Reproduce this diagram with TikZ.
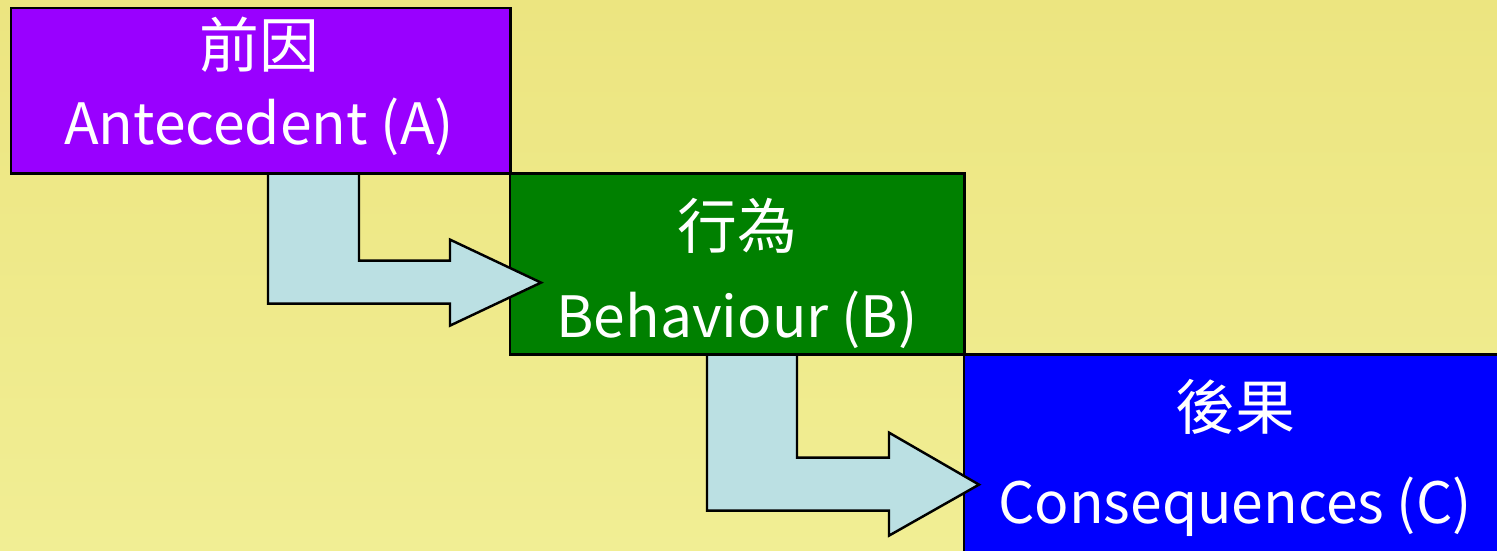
\documentclass[tikz,border=0pt]{standalone}
\usepackage{fontspec}
\setmainfont{Noto Sans CJK TC}
\usepackage{tikz}
\usetikzlibrary{calc}

\definecolor{bgtop}{RGB}{236,229,128}
\definecolor{bgbottom}{RGB}{241,238,148}
\definecolor{antecedent}{RGB}{153,0,255}
\definecolor{behaviour}{RGB}{0,128,0}
\definecolor{consequence}{RGB}{0,0,255}
\definecolor{arrowfill}{RGB}{187,224,227}

\tikzset{
  stagebox/.style={draw=black, line width=0.7pt, inner sep=0pt, outer sep=0pt, anchor=north west},
  bentarrow/.style={draw=black, line width=0.7pt, fill=arrowfill, line join=miter},
  labeltext/.style={text=white, inner sep=0pt, font=\fontsize{17pt}{20pt}\selectfont},
  latintext/.style={labeltext, anchor=base, font=\fontsize{16.2pt}{19pt}\selectfont}
}

\begin{document}
\begin{tikzpicture}[x=0.01cm, y=-0.01cm]
                \clip (0,0) rectangle (1497,550);
                \shade [top color=bgtop, bottom color=bgbottom] (0,0) rectangle (1497,550);
                % the three stages
                \node [stagebox, fill=antecedent, minimum width=4.99cm, minimum height=1.655cm] (boxA) at (11,8) {};
                \node [stagebox, fill=behaviour, minimum width=4.54cm, minimum height=1.81cm] (boxB) at (510,173.5) {};
                \node [stagebox, fill=consequence, minimum width=5.5cm, minimum height=2.2cm] (boxC) at (964,354.5) {};
                % bent arrows
                \draw [bentarrow] ($(boxA.south west)+(257,0)$) -- ++(91,0) -- ++(0,87) -- ++(91,0) -- ++(0,-21)
                    -- ++(91,43) -- ++(-91,43) -- ++(0,-22) -- ++(-182,0) -- cycle;
                \draw [bentarrow] ($(boxB.south west)+(197,0)$) -- ++(90,0) -- ++(0,103) -- ++(92,0) -- ++(0,-25)
                    -- ++(90,52) -- ++(-90,51) -- ++(0,-25) -- ++(-182,0) -- cycle;
                % labels
                \node [labeltext] (zhA) at (259,45) {前因};
                \node [latintext] (enA) at (259,144) {Antecedent (A)};
                \node [labeltext] (zhB) at (737,226) {行為};
                \node [latintext] (enB) at (737,337) {Behaviour (B)};
                \node [labeltext] (zhC) at (1235,407) {後果};
                \node [latintext] (enC) at (1235,523) {Consequences (C)};
            \end{tikzpicture}
\end{document}
